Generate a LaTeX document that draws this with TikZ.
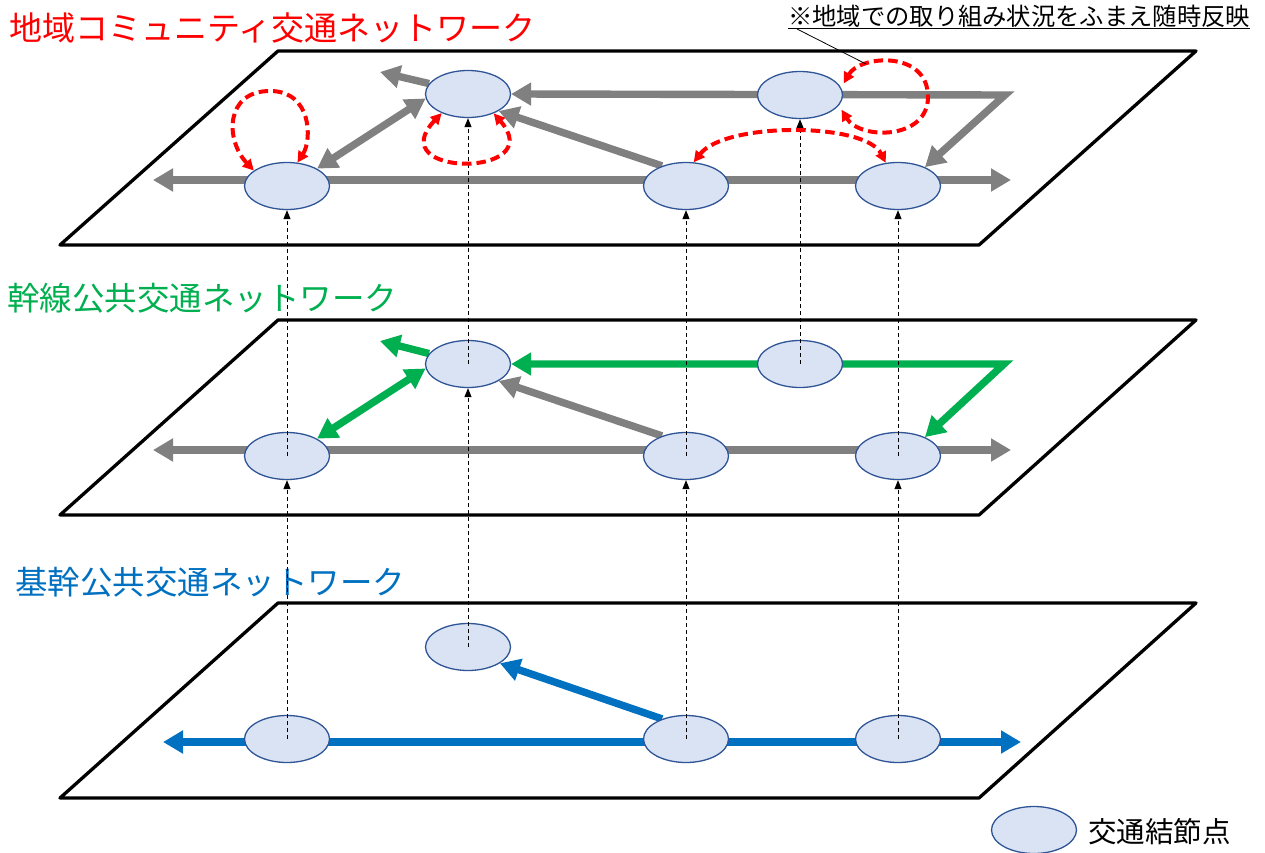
\documentclass[tikz,border=0pt]{standalone}
\usepackage{fontspec}
\newfontfamily\jp{Noto Sans CJK JP}
\usetikzlibrary{arrows.meta,shapes.geometric}
\pgfdeclarelayer{bg}
\pgfsetlayers{bg,main}
\definecolor{cred}{RGB}{255,0,0}
\definecolor{cgreen}{RGB}{0,176,80}
\definecolor{cblue}{RGB}{0,112,192}
\definecolor{cgray}{RGB}{128,128,128}
\definecolor{nfill}{RGB}{218,227,243}
\definecolor{nedge}{RGB}{47,85,151}
\tikzset{
  hub/.style={ellipse, draw=nedge, fill=nfill, line width=1.3pt, minimum width=85pt, minimum height=47pt, inner sep=0pt},
  plane/.style={draw=black, line width=3.3pt, line join=round},
  route/.style={line width=7.4pt, -{Triangle[length=20pt,width=22pt]}},
  dbl/.style={{Triangle[length=20pt,width=22pt]}-{Triangle[length=20pt,width=22pt]}},
  gr/.style={route, draw=cgray},
  gg/.style={route, draw=cgreen},
  gb/.style={route, draw=cblue},
  proj/.style={draw=black, line width=1pt, dash pattern=on 4pt off 3pt, -{Triangle[length=9pt,width=7pt]}},
  redloop/.style={draw=cred, line width=4pt, dash pattern=on 9.5pt off 5pt, {Triangle[length=11pt,width=11pt]}-{Triangle[length=11pt,width=11pt]}},
  title/.style={anchor=west, inner sep=0pt},
}
\begin{document}
\begin{tikzpicture}[x=1pt,y=-1pt]
\useasboundingbox (0,0) rectangle (1265,853);

% titles
\node[title, text=cred, font=\jp\fontsize{33}{35}\selectfont] (t1) at (9,28) {地域コミュニティ交通ネットワーク};
\node[title, text=cgreen, font=\jp\fontsize{32.5}{34}\selectfont] (t2) at (7,298) {幹線公共交通ネットワーク};
\node[title, text=cblue, font=\jp\fontsize{32.5}{34}\selectfont] (t3) at (15,582) {基幹公共交通ネットワーク};
\node[title, font=\jp\fontsize{24.3}{26}\selectfont] (note) at (788,17) {\underline{※地域での取り組み状況をふまえ随時反映}};

% hubs layer 1
\node[hub] (a1) at (287,186) {};
\node[hub] (b1) at (468,94) {};
\node[hub] (c1) at (800,95) {};
\node[hub] (d1) at (686,186) {};
\node[hub] (e1) at (898,186) {};
% hubs layer 2
\node[hub] (a2) at (287,456) {};
\node[hub] (b2) at (468,364) {};
\node[hub] (c2) at (800,364) {};
\node[hub] (d2) at (686,456) {};
\node[hub] (e2) at (898,456) {};
% hubs layer 3
\node[hub] (a3) at (287,739) {};
\node[hub] (b3) at (468,647) {};
\node[hub] (d3) at (686,739) {};
\node[hub] (e3) at (898,739) {};
% legend
\node[hub] (lg) at (1034,830) {};
\node[title, font=\jp\fontsize{28.5}{30}\selectfont] (lt) at (1088,832) {交通結節点};

% free ends
\coordinate (w1) at (153,180); \coordinate (r1) at (1011,180);
\coordinate (k1) at (1005,95); \coordinate (u1) at (380,72);
\coordinate (w2) at (153,450); \coordinate (r2) at (1011,450);
\coordinate (k2) at (1004,364); \coordinate (u2) at (380,341);
\coordinate (w3) at (163,742); \coordinate (r3) at (1021,742);
\coordinate (ldA) at (797,29); \coordinate (ldB) at (866,64);

\begin{pgfonlayer}{bg}
  \draw[plane] (278,51) -- (1196,51) -- (979,245) -- (60,245) -- cycle;
  \draw[plane] (278,320) -- (1196,320) -- (979,515) -- (60,515) -- cycle;
  \draw[plane] (278,603) -- (1196,603) -- (979,798) -- (60,798) -- cycle;
  % layer 1
  \draw[gr, dbl] (w1) -- (r1);
  \draw[gr, dbl] (b1.east) -- (k1) -- (e1.35);
  \draw[gr] (b1.165) -- (u1);
  \draw[gr, dbl] (a1.30) -- (b1.186);
  \draw[gr] (d1.140) -- (b1.331);
  % layer 2
  \draw[gr, dbl] (w2) -- (r2);
  \draw[gg, dbl] (b2.east) -- (k2) -- (e2.35);
  \draw[gg] (b2.165) -- (u2);
  \draw[gg, dbl] (a2.30) -- (b2.186);
  \draw[gr] (d2.140) -- (b2.331);
  % layer 3
  \draw[gb, dbl] (w3) -- (r3);
  \draw[gb] (d3.140) -- (b3.333);
\end{pgfonlayer}

% projections
\draw[proj] (a3.center) -- (a2.south);
\draw[proj] (a2.center) -- (a1.south);
\draw[proj] (b3.center) -- (b2.south);
\draw[proj] (b2.center) -- (b1.south);
\draw[proj] (c2.center) -- (c1.south);
\draw[proj] (d3.center) -- (d2.south);
\draw[proj] (d2.center) -- (d1.south);
\draw[proj] (e3.center) -- (e2.south);
\draw[proj] (e2.center) -- (e1.south);

% red loops
\draw[redloop] (a1.155) .. controls (225,140) and (225,91) .. (270,91) .. controls (312,91) and (312,140) .. (a1.66);
\draw[redloop] (b1.216) .. controls (380,178) and (550,178) .. (b1.323);
\draw[redloop, shorten <=5pt, shorten >=5pt] (c1.10) .. controls (860,55) and (928,50) .. (928,97) .. controls (928,140) and (860,140) .. (c1.345);
\draw[redloop] (d1.72) .. controls (725,122) and (865,122) .. (e1.118);

% leader
\draw[line width=0.8pt] (ldA) -- (ldB);
\end{tikzpicture}
\end{document}
